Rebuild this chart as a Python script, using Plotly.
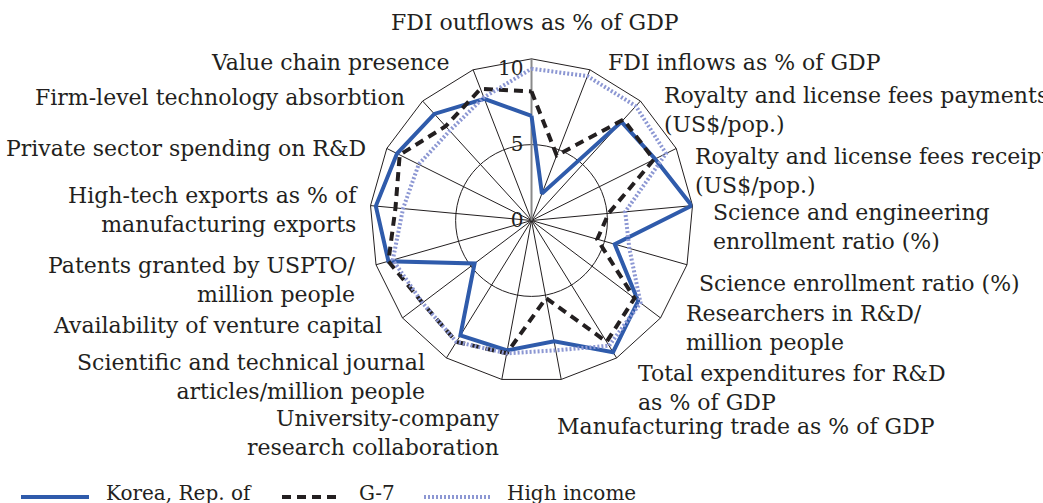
import plotly.graph_objects as go

# categories clockwise from the top
categorias = [
    "FDI outflows as % of GDP",
    "FDI inflows as % of GDP",
    "Royalty and license fees payments (US$/pop.)",
    "Royalty and license fees receipts (US$/pop.)",
    "Science and engineering enrollment ratio (%)",
    "Science enrollment ratio (%)",
    "Researchers in R&D/million people",
    "Total expenditures for R&D as % of GDP",
    "Manufacturing trade as % of GDP",
    "University-company research collaboration",
    "Scientific and technical journal articles/million people",
    "Availability of venture capital",
    "Patents granted by USPTO/million people",
    "High-tech exports as % of manufacturing exports",
    "Private sector spending on R&D",
    "Firm-level technology absorbtion",
    "Value chain presence",
]

rotulos = [
    "FDI outflows as % of GDP",
    "FDI inflows as % of GDP",
    "Royalty and license fees payments<br>(US$/pop.)",
    "Royalty and license fees receipts<br>(US$/pop.)",
    "Science and engineering<br>enrollment ratio (%)",
    "Science enrollment ratio (%)",
    "Researchers in R&D/<br>million people",
    "Total expenditures for R&D<br>as % of GDP",
    "Manufacturing trade as % of GDP",
    "University-company<br>research collaboration",
    "Scientific and technical journal<br>articles/million people",
    "Availability of venture capital",
    "Patents granted by USPTO/<br>million people",
    "High-tech exports as % of<br>manufacturing exports",
    "Private sector spending on R&D",
    "Firm-level technology absorbtion",
    "Value chain presence",
]

series = ["Korea, Rep. of", "G-7", "High income"]
korea = [6.9, 1.9, 8.8, 9.1, 10.6, 5.7, 8.8, 10.2, 8.1, 8.7, 8.9, 4.7, 9.8, 10.3, 9.9, 9.5, 8.6]
g7 = [8.5, 4.6, 9.0, 9.0, 5.1, 4.5, 8.5, 9.4, 5.2, 8.9, 9.4, 9.0, 9.8, 9.0, 9.7, 8.4, 9.3]
high_income = [10.0, 10.2, 10.2, 9.9, 6.2, 6.7, 9.0, 9.7, 8.7, 8.9, 9.4, 9.0, 9.5, 8.5, 8.3, 8.0, 8.7]

radial_ticks = [0, 5, 10]

W, H = 1043, 503
FONTE = "DejaVu Serif"
COR_TEXTO = "#231f20"
TAM = 22

estilos = [
    dict(color="#2f5bab", width=4),
    dict(color="#231f20", width=4, dash="9px,6px"),
    dict(color="#8c97d3", width=4, dash="2px,2px"),
]

# label anchors in pixels: (x, y, xanchor)
pos_rotulos = [
    (535, 22, "center"),
    (606, 62, "left"),
    (662, 110, "left"),
    (693, 171, "left"),
    (711, 227, "left"),
    (697, 283, "left"),
    (684, 328, "left"),
    (636, 388, "left"),
    (555, 426, "left"),
    (502, 433, "right"),
    (427, 377, "right"),
    (384, 325, "right"),
    (358, 280, "right"),
    (360, 210, "right"),
    (368, 148, "right"),
    (407, 97, "right"),
    (451, 63, "right"),
]

# hand-drawn legend: swatch x0, x1, text x (pixels)
pos_legenda = [(21, 89, 104), (282, 342, 357), (424, 490, 505)]
y_legenda = 497

fechar = lambda v: v + v[:1]
theta = fechar(categorias)

fig = go.Figure()

# invisible trace only to draw the circular grid at 5
fig.add_trace(go.Scatterpolar(
    r=[0], theta=[categorias[0]], mode="markers",
    marker=dict(opacity=0), showlegend=False, hoverinfo="skip",
    subplot="polar"
))

for nome, valores, estilo in zip(series, [korea, g7, high_income], estilos):
    fig.add_trace(go.Scatterpolar(
        r=fechar(valores), theta=theta, mode="lines", name=nome,
        line=estilo, subplot="polar2", showlegend=False
    ))

# center dot
fig.add_trace(go.Scatterpolar(
    r=[0], theta=[categorias[0]], mode="markers",
    marker=dict(color="black", size=12), showlegend=False, hoverinfo="skip",
    subplot="polar2"
))

dominio = dict(x=[0.3546, 0.6646], y=[0.2401, 0.8831])
rmax = 10.65

fig.update_layout(
    width=W, height=H,
    margin=dict(l=0, r=0, t=0, b=0, autoexpand=False),
    paper_bgcolor="white",
    plot_bgcolor="white",
    font=dict(family=FONTE, size=TAM, color=COR_TEXTO),
    polar=dict(
        domain=dominio,
        bgcolor="rgba(0,0,0,0)",
        gridshape="circular",
        radialaxis=dict(range=[0, rmax], tickvals=[5], showticklabels=False,
                        showline=False, ticks="", showgrid=True,
                        gridcolor="#231f20", gridwidth=1),
        angularaxis=dict(type="category", categoryarray=categorias,
                         direction="clockwise", rotation=90,
                         showgrid=False, showline=False,
                         showticklabels=False, ticks=""),
    ),
    polar2=dict(
        domain=dominio,
        bgcolor="rgba(0,0,0,0)",
        gridshape="linear",
        radialaxis=dict(range=[0, rmax], tickvals=radial_ticks,
                        angle=90, tickangle=90, side="counterclockwise",
                        showgrid=False, showline=True, linecolor="#8a8a8a",
                        linewidth=2, ticks="", layer="below traces",
                        tickfont=dict(family=FONTE, size=20, color=COR_TEXTO)),
        angularaxis=dict(type="category", categoryarray=categorias,
                         direction="clockwise", rotation=90,
                         showgrid=True, gridcolor="#231f20", gridwidth=1,
                         showline=True, linecolor="#231f20", linewidth=1,
                         showticklabels=False, ticks="", layer="below traces"),
    ),
)

for texto, (px, py, anc) in zip(rotulos, pos_rotulos):
    fig.add_annotation(
        text=texto, x=px / W, y=1 - py / H, xref="paper", yref="paper",
        xanchor=anc, yanchor="middle", align=anc,
        showarrow=False, font=dict(family=FONTE, size=TAM, color=COR_TEXTO),
    )

# legend along the bottom edge
for nome, estilo, (x0, x1, xt) in zip(series, estilos, pos_legenda):
    fig.add_shape(
        type="line", xref="paper", yref="paper",
        x0=x0 / W, x1=x1 / W, y0=1 - y_legenda / H, y1=1 - y_legenda / H,
        line=estilo,
    )
    fig.add_annotation(
        text=nome, x=xt / W, y=1 - (y_legenda - 4) / H, xref="paper", yref="paper",
        xanchor="left", yanchor="middle", showarrow=False,
        font=dict(family=FONTE, size=20, color=COR_TEXTO),
    )

fig.write_html(
    "out.html",
    config={"displayModeBar": False},
    post_script="document.body.style.margin='0';",
)
